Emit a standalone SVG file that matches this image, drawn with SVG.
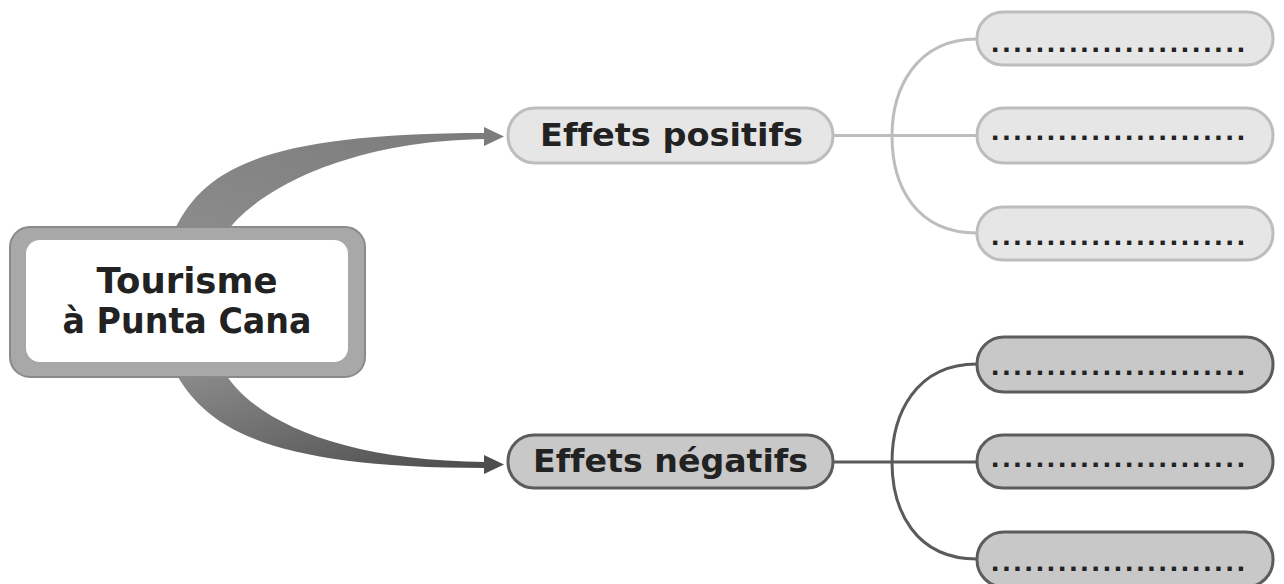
<svg xmlns="http://www.w3.org/2000/svg" width="1284" height="584" viewBox="0 0 1284 584">
<style>
.t{font-family:"DejaVu Sans","Liberation Sans",Arial,sans-serif;font-weight:bold;fill:#222;text-anchor:middle;font-variant-ligatures:none}
.dots{font-family:"Liberation Sans",Arial,sans-serif;font-weight:bold;font-size:30px;fill:#222}
.pos{fill:#e6e6e6;stroke:#bdbdbd;stroke-width:3}
.neg{fill:#c8c8c8;stroke:#5c5c5c;stroke-width:3}
.lpos{fill:none;stroke:#bdbdbd;stroke-width:3}
.lneg{fill:none;stroke:#5a5a5a;stroke-width:3}
</style>
<defs>
<linearGradient id="gTop" x1="0" y1="1" x2="1" y2="0">
<stop offset="0" stop-color="#8c8c8c"/><stop offset="1" stop-color="#7c7c7c"/>
</linearGradient>
<linearGradient id="gBot" x1="0" y1="0" x2="1" y2="1">
<stop offset="0" stop-color="#8e8e8e"/><stop offset="1" stop-color="#4c4c4c"/>
</linearGradient>
</defs>
<rect width="1284" height="584" fill="#ffffff"/>
<g id="connectors">
<path d="M172 236 C200 170 260 133 486 133 L486 139 C340 141 250 195 224 236 Z" fill="url(#gTop)"/>
<polygon points="484,127 504,136.5 484,146" fill="#7c7c7c"/>
<path d="M173 368 C205 430 270 468 486 468 L486 462 C340 461 250 420 222 368 Z" fill="url(#gBot)"/>
<polygon points="484,455 504,464.5 484,474" fill="#4e4e4e"/>
<line class="lpos" x1="833" y1="135.5" x2="977" y2="135.5"/>
<path class="lpos" d="M977 39 C915 39 892 90 892 136 C892 185 915 233 977 233"/>
<line class="lneg" x1="833" y1="462" x2="977" y2="462"/>
<path class="lneg" d="M977 364 C915 364 892 415 892 462 C892 510 915 559 977 559"/>
</g>
<g id="center">
<rect x="10" y="227" width="355" height="150" rx="20" fill="#a8a8a8" stroke="#8a8a8a" stroke-width="2"/>
<rect x="26" y="240" width="322" height="122" rx="14" fill="#ffffff"/>
<text class="t" x="187" y="293" font-size="35" textLength="181" lengthAdjust="spacingAndGlyphs">Tourisme</text>
<text class="t" x="187" y="333" font-size="35" textLength="249" lengthAdjust="spacingAndGlyphs">à Punta Cana</text>
</g>
<g id="effets-positifs">
<rect class="pos" x="508" y="108" width="325" height="55" rx="27"/>
<text class="t" x="671.5" y="146" font-size="32" textLength="263" lengthAdjust="spacingAndGlyphs">Effets positifs</text>
</g>
<g id="effets-negatifs">
<rect class="neg" x="508" y="435" width="325" height="53" rx="26"/>
<text class="t" x="670.5" y="472" font-size="32" textLength="275" lengthAdjust="spacingAndGlyphs">Effets négatifs</text>
</g>
<g id="pos-1">
<rect class="pos" x="977" y="12" width="296" height="53" rx="26"/>
<text class="dots" x="991" y="52" textLength="254" lengthAdjust="spacing">.......................</text>
</g>
<g id="pos-2">
<rect class="pos" x="977" y="108" width="296" height="55" rx="27"/>
<text class="dots" x="991" y="140" textLength="254" lengthAdjust="spacing">.......................</text>
</g>
<g id="pos-3">
<rect class="pos" x="977" y="207" width="296" height="53" rx="26"/>
<text class="dots" x="991" y="245" textLength="254" lengthAdjust="spacing">.......................</text>
</g>
<g id="neg-1">
<rect class="neg" x="977" y="337" width="296" height="55" rx="27"/>
<text class="dots" x="991" y="375" textLength="254" lengthAdjust="spacing">.......................</text>
</g>
<g id="neg-2">
<rect class="neg" x="977" y="435" width="296" height="53" rx="26"/>
<text class="dots" x="991" y="467" textLength="254" lengthAdjust="spacing">.......................</text>
</g>
<g id="neg-3">
<rect class="neg" x="977" y="532" width="296" height="55" rx="27"/>
<text class="dots" x="991" y="571" textLength="254" lengthAdjust="spacing">.......................</text>
</g>
</svg>
